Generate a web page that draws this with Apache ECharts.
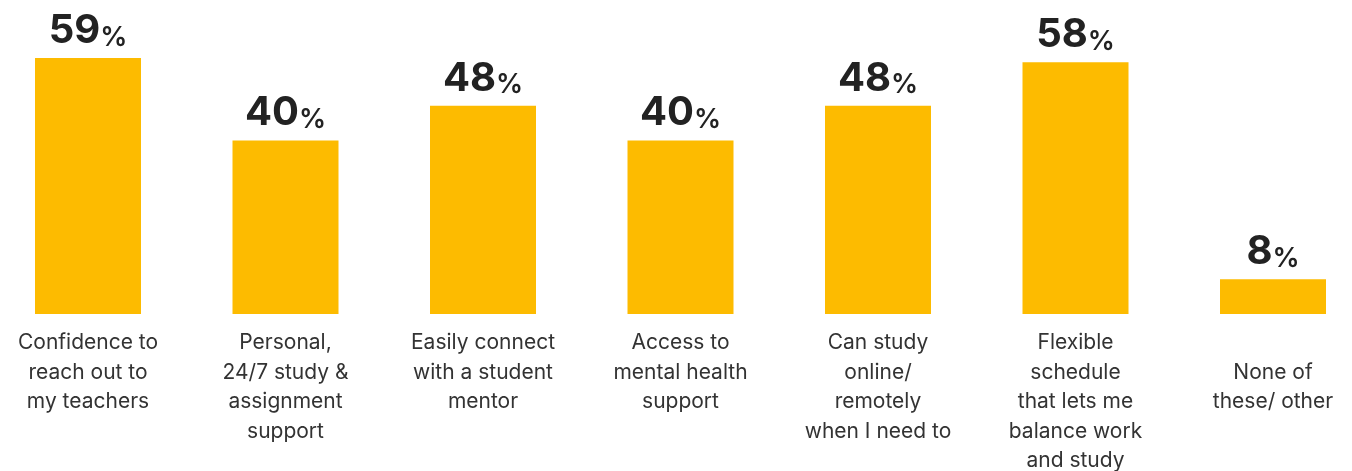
<!DOCTYPE html>
<html>
<head>
<meta charset="utf-8">
<script src="https://cdn.jsdelivr.net/npm/echarts@6/dist/echarts.min.js"></script>
<style>
  html, body { margin: 0; padding: 0; background: #ffffff; }
  #chart { width: 1352px; height: 471px; }
</style>
</head>
<body>
<div id="chart"></div>
<script>
const categories = [
  "Confidence to\nreach out to\nmy teachers",
  "Personal,\n24/7 study &\nassignment\nsupport",
  "Easily connect\nwith a student\nmentor",
  "Access to\nmental health\nsupport",
  "Can study\nonline/\nremotely\nwhen I need to",
  "Flexible\nschedule\nthat lets me\nbalance work\nand study",
  "None of\nthese/ other"
];
const values = [59, 40, 48, 40, 48, 58, 8];

const chart = echarts.init(document.getElementById("chart"));
chart.setOption({
  backgroundColor: "#ffffff",
  animation: false,
  grid: {
    left: -10.75,
    width: 1382.5,
    top: 53.6,
    bottom: 157,
    containLabel: false,
    outerBoundsMode: "none"
  },
  xAxis: {
    type: "category",
    data: categories,
    axisLine: { show: false },
    axisTick: { show: false },
    axisLabel: {
      interval: 0,
      margin: 14,
      fontFamily: "Inter",
      fontSize: 21,
      lineHeight: 29.5,
      color: "#333333",
      align: "center",
      formatter(value, idx) {
        // last label sits one line lower in the original
        return idx === categories.length - 1 ? "\n" + value : value;
      }
    }
  },
  yAxis: {
    type: "value",
    min: 0,
    max: 60,
    show: false,
    splitLine: { show: false }
  },
  series: [
    {
      type: "bar",
      data: values,
      barWidth: 106,
      itemStyle: { color: "#FDBB00" },
      label: {
        show: true,
        position: "top",
        distance: 7,
        formatter: "{n|{c}}{p|%}",
        rich: {
          n: {
            fontFamily: "Inter",
            fontWeight: "bold",
            fontSize: 40,
            color: "#222222"
          },
          p: {
            fontFamily: "Inter",
            fontWeight: 600,
            fontSize: 27,
            color: "#222222",
            verticalAlign: "bottom"
          }
        }
      }
    }
  ]
});
</script>
</body>
</html>
